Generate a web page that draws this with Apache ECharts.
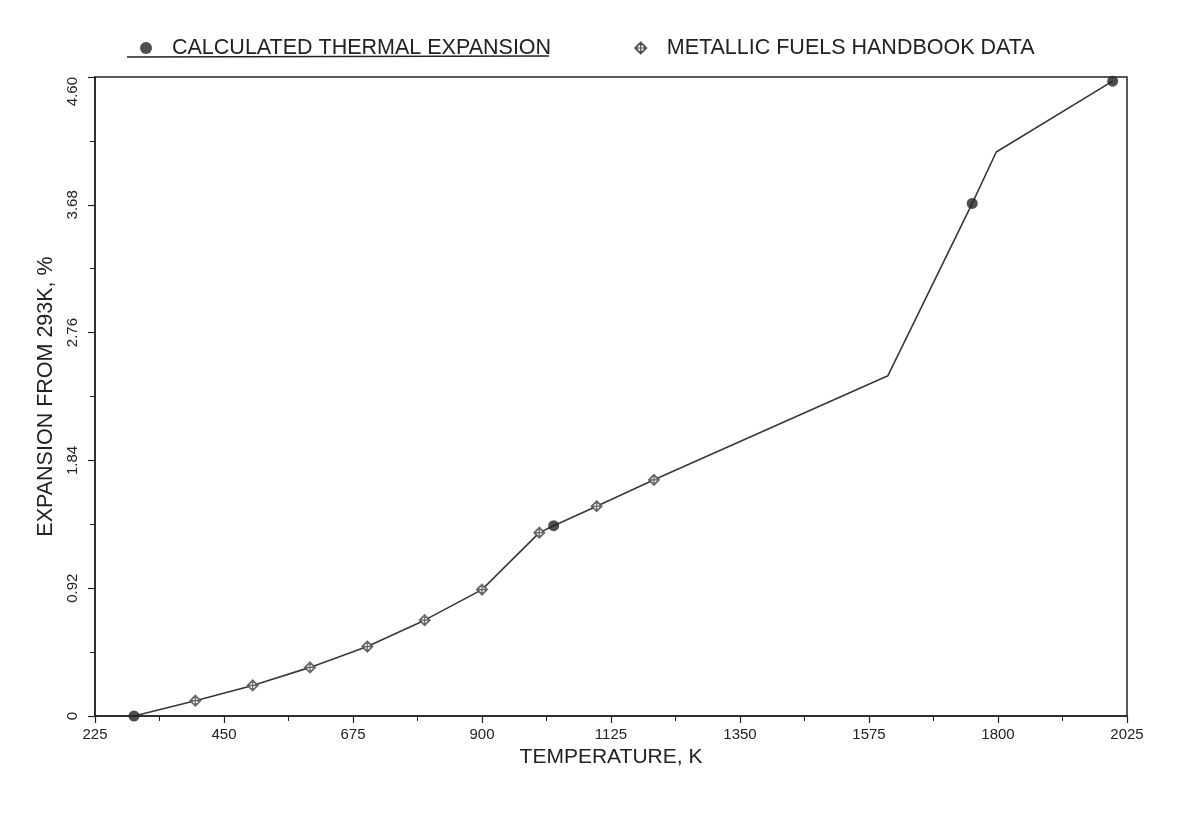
<!DOCTYPE html>
<html>
<head>
<meta charset="utf-8">
<script src="https://cdn.jsdelivr.net/npm/echarts@6/dist/echarts.min.js"></script>
<style>
html,body{margin:0;padding:0;background:#fff;}
#c{width:1188px;height:823px;}
</style>
</head>
<body>
<div id="c"></div>
<script>
// ---- data ----
const xTicks = [225, 450, 675, 900, 1125, 1350, 1575, 1800, 2025];
const yTicks = [0, 0.92, 1.84, 2.76, 3.68, 4.60];
const calcTemp = [293, 1025, 1755, 2000];
const calcExp = [0, 1.37, 3.69, 4.57];
const hbTemp = [400, 500, 600, 700, 800, 900, 1000, 1100, 1200];
const hbExp = [0.11, 0.22, 0.35, 0.50, 0.69, 0.91, 1.32, 1.51, 1.70];
const curveTemp = [293, 400, 500, 600, 700, 800, 900, 1000, 1025, 1100, 1200, 1608, 1755, 1797, 2000];
const curveExp = [0, 0.11, 0.22, 0.35, 0.50, 0.69, 0.91, 1.32, 1.37, 1.51, 1.70, 2.45, 3.69, 4.06, 4.57];
const seriesNames = ['CALCULATED THERMAL EXPANSION', 'METALLIC FUELS HANDBOOK DATA'];

const zip = (a, b) => a.map((v, i) => [v, b[i]]);
const ink = '#222222';
const diamondPath = 'path://M5,0 L10,5 L5,10 L0,5 Z M5,0 L5,10 M0,5 L10,5 M8,5 A3,3 0 1 1 2,5 A3,3 0 1 1 8,5';
const font = '"Liberation Sans", Arial, sans-serif';

const chart = echarts.init(document.getElementById('c'), null, {renderer: 'canvas'});
chart.setOption({
  backgroundColor: '#ffffff',
  animation: false,
  textStyle: {fontFamily: font, color: ink},
  grid: {left: 95, right: 61, top: 77, bottom: 107, show: true, borderColor: ink, borderWidth: 1.5, backgroundColor: 'transparent'},
  legend: {
    left: 135, top: 32,
    itemWidth: 12, itemHeight: 12, itemGap: 83,
    textStyle: {fontSize: 21.5, color: ink, fontFamily: font, padding: [0, 0, 0, 15]},
    data: [
      {name: seriesNames[0], icon: 'circle', itemStyle: {color: ink}},
      {name: seriesNames[1], icon: diamondPath, itemStyle: {color: 'transparent', borderColor: ink, borderWidth: 1.2}}
    ]
  },
  xAxis: {
    type: 'value', min: xTicks[0], max: xTicks[xTicks.length - 1], interval: 225,
    name: 'TEMPERATURE, K', nameLocation: 'middle', nameGap: 30,
    nameTextStyle: {fontSize: 21, color: ink, fontFamily: font},
    axisLine: {show: true, lineStyle: {color: ink, width: 1.5}},
    axisTick: {show: true, length: 7, lineStyle: {color: ink, width: 1.2}},
    minorTick: {show: true, splitNumber: 2, length: 5, lineStyle: {color: ink, width: 1}},
    splitLine: {show: false},
    axisLabel: {fontSize: 15, color: ink, margin: 11, formatter: v => String(v)}
  },
  yAxis: {
    type: 'value', min: yTicks[0], max: yTicks[yTicks.length - 1], interval: 0.92,
    name: 'EXPANSION FROM 293K, %', nameLocation: 'middle', nameGap: 26, nameRotate: 90,
    nameTextStyle: {fontSize: 21.5, color: ink, fontFamily: font},
    axisLine: {show: true, lineStyle: {color: ink, width: 1.5}},
    axisTick: {show: true, length: 7, lineStyle: {color: ink, width: 1.2}},
    minorTick: {show: true, splitNumber: 2, length: 5, lineStyle: {color: ink, width: 1}},
    splitLine: {show: false},
    axisLabel: {fontSize: 15, color: ink, rotate: 90, margin: 15, alignMaxLabel: 'right',
      formatter: v => (v === 0 ? '0' : v.toFixed(2))}
  },
  series: [
    {
      type: 'line', name: 'curve', data: zip(curveTemp, curveExp),
      showSymbol: false, symbol: 'none', lineStyle: {color: '#383838', width: 1.6}, z: 2
    },
    {
      type: 'scatter', name: seriesNames[0], data: zip(calcTemp, calcExp),
      symbol: 'circle', symbolSize: 11, itemStyle: {color: ink}, z: 4
    },
    {
      type: 'scatter', name: seriesNames[1], data: zip(hbTemp, hbExp),
      symbol: diamondPath, symbolSize: 11,
      itemStyle: {color: '#ffffff', borderColor: '#444', borderWidth: 1.2}, z: 3
    }
  ],
  graphic: [
    {type: 'line', shape: {x1: 127, y1: 57, x2: 549, y2: 56}, style: {stroke: ink, lineWidth: 1.5}}
  ]
});
</script>
</body>
</html>
